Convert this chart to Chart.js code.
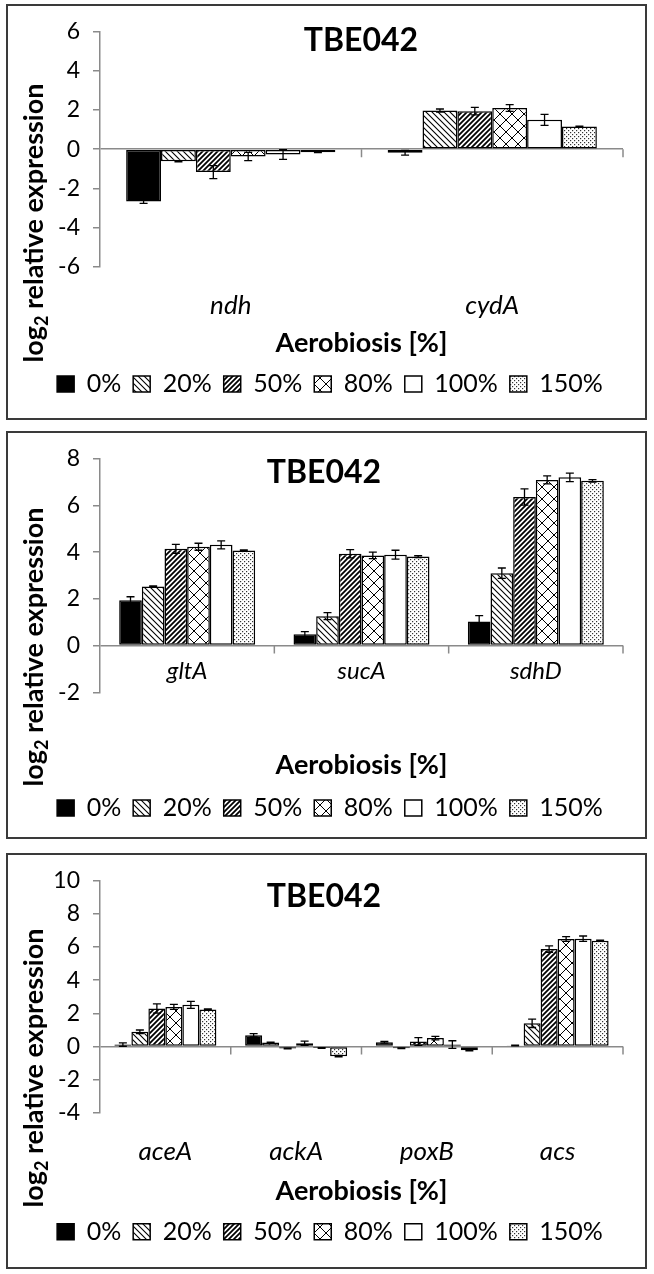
<!DOCTYPE html>
<html>
<head>
<meta charset="utf-8">
<script src="https://cdn.jsdelivr.net/npm/chart.js@4.4.1/dist/chart.umd.min.js"></script>
<style>
  body { margin: 0; background: #fff; width: 654px; height: 1274px; position: relative; overflow: hidden; }
  .panel { position: absolute; left: 6px; width: 637px; border: 2px solid #3a3a3a; background: #fff; }
  .panel canvas { display: block; }
</style>
</head>
<body>
<div class="panel" style="top:4px;height:412px"><canvas id="c1" width="637" height="412"></canvas></div>
<div class="panel" style="top:431px;height:404px"><canvas id="c2" width="637" height="404"></canvas></div>
<div class="panel" style="top:853px;height:412px"><canvas id="c3" width="637" height="412"></canvas></div>
<script>
// aerobiosis levels (one series each)
const levels = ['0%', '20%', '50%', '80%', '100%', '150%'];

// panel 1
const genes1 = ['ndh', 'cydA'];
const mean1 = [
  [-2.67, -0.18],
  [-0.62, 1.97],
  [-1.17, 1.94],
  [-0.37, 2.1],
  [-0.27, 1.5],
  [-0.16, 1.16],
];
const err1 = [
  [0.1, 0.12],
  [0.03, 0.08],
  [0.33, 0.19],
  [0.21, 0.17],
  [0.25, 0.28],
  [0.02, 0.02],
];

// panel 2
const genes2 = ['gltA', 'sucA', 'sdhD'];
const mean2 = [
  [1.94, 0.48, 1.03],
  [2.53, 1.26, 3.1],
  [4.14, 3.93, 6.36],
  [4.23, 3.86, 7.09],
  [4.31, 3.89, 7.2],
  [4.07, 3.81, 7.05],
];
const err2 = [
  [0.15, 0.12, 0.25],
  [0.02, 0.15, 0.22],
  [0.19, 0.18, 0.35],
  [0.15, 0.14, 0.17],
  [0.17, 0.19, 0.18],
  [0.02, 0.04, 0.05],
];

// panel 3
const genes3 = ['aceA', 'ackA', 'poxB', 'acs'];
const mean3 = [
  [0.11, 0.67, 0.25, 0.06],
  [0.88, 0.23, -0.11, 1.39],
  [2.29, -0.13, 0.3, 5.87],
  [2.38, 0.19, 0.5, 6.48],
  [2.51, -0.1, 0.11, 6.5],
  [2.23, -0.59, -0.23, 6.38],
];
const err3 = [
  [0.1, 0.1, 0.05, 0.02],
  [0.11, 0.03, 0.02, 0.25],
  [0.28, 0.02, 0.23, 0.19],
  [0.15, 0.13, 0.11, 0.14],
  [0.21, 0.02, 0.23, 0.16],
  [0.03, 0.04, 0.04, 0.03],
];

const FONT = "Lato, 'Open Sans', sans-serif";
const AXIS_GREY = '#8a8a8a';

// fill patterns like the excel ones
function makePattern(kind) {
  const s = { back: 6, fwd: 5, cross: 12, dots: 4 }[kind];
  const c = document.createElement('canvas');
  c.width = s; c.height = s;
  const g = c.getContext('2d');
  g.fillStyle = '#fff';
  g.fillRect(0, 0, s, s);
  g.strokeStyle = '#000';
  g.beginPath();
  if (kind === 'back') {
    g.lineWidth = 1.1;
    g.moveTo(0, 0); g.lineTo(s, s);
    g.moveTo(-1, s - 1); g.lineTo(1, s + 1);
    g.moveTo(s - 1, -1); g.lineTo(s + 1, 1);
    g.stroke();
  } else if (kind === 'fwd') {
    g.lineWidth = 1.8;
    g.moveTo(0, s); g.lineTo(s, 0);
    g.moveTo(-1, 1); g.lineTo(1, -1);
    g.moveTo(s - 1, s + 1); g.lineTo(s + 1, s - 1);
    g.stroke();
  } else if (kind === 'cross') {
    g.lineWidth = 1;
    g.moveTo(0, 0); g.lineTo(s, s);
    g.moveTo(0, s); g.lineTo(s, 0);
    g.stroke();
  } else {
    g.fillStyle = '#333';
    g.fillRect(0, 0, 1.2, 1.2);
    g.fillRect(2, 2, 1.2, 1.2);
  }
  return g.createPattern(c, 'repeat');
}

const fills = ['#000', makePattern('back'), makePattern('fwd'), makePattern('cross'), '#fff', makePattern('dots')];

// error bars, category ticks on the zero line, chart title and y title
const panelExtras = {
  id: 'panelExtras',
  afterDatasetsDraw(chart) {
    const { ctx } = chart;
    const ys = chart.scales.y;
    ctx.save();
    ctx.strokeStyle = '#000';
    ctx.lineWidth = 1.3;
    chart.data.datasets.forEach((ds, di) => {
      chart.getDatasetMeta(di).data.forEach((bar, i) => {
        const v = ds.data[i], e = ds.errors[i];
        const t = ys.getPixelForValue(v + e), b = ys.getPixelForValue(v - e);
        ctx.beginPath();
        ctx.moveTo(bar.x, t); ctx.lineTo(bar.x, b);
        ctx.moveTo(bar.x - 4, t); ctx.lineTo(bar.x + 4, t);
        ctx.moveTo(bar.x - 4, b); ctx.lineTo(bar.x + 4, b);
        ctx.stroke();
      });
    });
    ctx.restore();
  },
  afterDraw(chart, args, opts) {
    const { ctx, chartArea } = chart;
    const xs = chart.scales.x, ys = chart.scales.y;
    const y0 = ys.getPixelForValue(0);
    ctx.save();
    ctx.strokeStyle = AXIS_GREY;
    ctx.lineWidth = 1.5;
    ctx.beginPath();
    for (let i = 1; i < xs.ticks.length; i++) {
      const px = (xs.getPixelForValue(i - 1) + xs.getPixelForValue(i)) / 2;
      ctx.moveTo(px, y0); ctx.lineTo(px, y0 + 8);
    }
    ctx.moveTo(chartArea.right, y0); ctx.lineTo(chartArea.right, y0 + 8);
    ctx.stroke();

    // chart title
    ctx.fillStyle = '#000';
    ctx.font = 'bold 32px ' + FONT;
    ctx.textAlign = 'center';
    ctx.textBaseline = 'alphabetic';
    ctx.fillText('TBE042', opts.titleX, opts.titleY);

    // y title with subscript 2
    ctx.translate(opts.yTitleX, opts.yTitleY);
    ctx.rotate(-Math.PI / 2);
    const big = 'bold 27px ' + FONT, small = 'bold 18px ' + FONT;
    ctx.font = big;
    const w1 = ctx.measureText('log').width;
    const w3 = ctx.measureText(' relative expression').width;
    ctx.font = small;
    const w2 = ctx.measureText('2').width;
    let x = -(w1 + w2 + w3) / 2;
    ctx.textAlign = 'left';
    ctx.font = big;
    ctx.fillText('log', x, 0);
    x += w1;
    ctx.font = small;
    ctx.fillText('2', x, 5);
    x += w2;
    ctx.font = big;
    ctx.fillText(' relative expression', x, 0);
    ctx.restore();
  }
};

function drawPanel(id, genes, means, errs, p) {
  const datasets = levels.map((lv, k) => ({
    label: lv,
    data: means[k],
    errors: errs[k],
    backgroundColor: fills[k],
    borderColor: '#000',
    borderWidth: 1.5,
    borderSkipped: false,
    categoryPercentage: p.groupWidth,
    barPercentage: 1.0,
  }));
  return new Chart(document.getElementById(id).getContext('2d'), {
    type: 'bar',
    data: { labels: genes, datasets },
    plugins: [panelExtras],
    options: {
      responsive: false,
      animation: false,
      // left padding + y axis width = 92, keeps the legend centred like the original
      layout: { padding: { top: p.top, bottom: p.bottom, left: 29, right: 22 } },
      plugins: {
        tooltip: { enabled: false },
        legend: {
          position: 'bottom',
          labels: {
            color: '#000',
            font: { family: FONT, size: 25 },
            boxWidth: 17,
            boxHeight: 16,
            padding: 12,
          },
        },
        panelExtras: p.text,
      },
      scales: {
        x: {
          grid: { display: false, drawTicks: false },
          border: { display: false },
          ticks: {
            color: '#000',
            mirror: !!p.mirror,
            padding: p.labelPad,
            font: { family: FONT, size: p.labelSize, style: 'italic' },
          },
          title: {
            display: true,
            text: 'Aerobiosis [%]',
            color: '#000',
            font: { family: FONT, size: 27, weight: 'bold' },
            padding: { top: 0, bottom: p.xTitlePad },
          },
          afterFit: (s) => { s.height = p.xHeight; },
        },
        y: {
          min: p.min,
          max: p.max,
          border: { display: true, color: AXIS_GREY, width: 1.5 },
          grid: {
            color: (c) => (c.tick && c.tick.value === 0 ? AXIS_GREY : 'transparent'),
            tickColor: AXIS_GREY,
            lineWidth: 1.5,
            tickLength: 7,
          },
          ticks: {
            stepSize: 2,
            color: '#000',
            padding: 13,
            font: { family: FONT, size: 23, lineHeight: 1.1 },
          },
          afterFit: (s) => { s.width = 63; },
        },
      },
    },
  });
}

drawPanel('c1', genes1, mean1, err1, {
  min: -6, max: 6, top: 24.7, bottom: 11.5, xHeight: 92.8, labelPad: 23.7, labelSize: 26,
  xTitlePad: 0.3, groupWidth: 0.8,
  text: { titleX: 353, titleY: 45, yTitleX: 35, yTitleY: 217 },
});
drawPanel('c2', genes2, mean2, err2, {
  min: -2, max: 8, top: 21.3, bottom: 6.5, xHeight: 91.2, labelPad: 7, labelSize: 24, mirror: true,
  xTitlePad: 2.3, groupWidth: 0.78,
  text: { titleX: 316, titleY: 50, yTitleX: 35, yTitleY: 214 },
});
drawPanel('c3', genes3, mean3, err3, {
  min: -4, max: 10, top: 13.3, bottom: 12.8, xHeight: 94.5, labelPad: 23.4, labelSize: 26,
  xTitlePad: -0.7, groupWidth: 0.78,
  text: { titleX: 316, titleY: 52, yTitleX: 35, yTitleY: 213 },
});
</script>
</body>
</html>
